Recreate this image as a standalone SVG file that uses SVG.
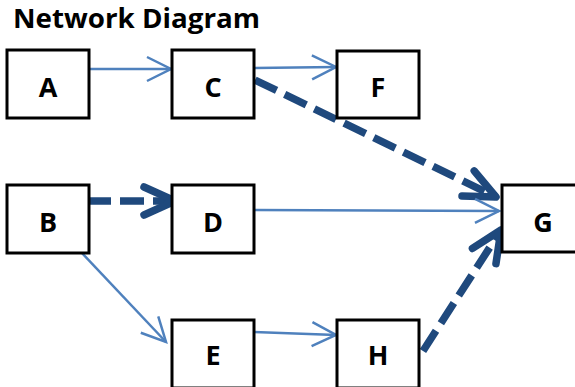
<svg xmlns="http://www.w3.org/2000/svg" width="575" height="387" viewBox="0 0 575 387">
  <style>
    .box { fill: #ffffff; stroke: #000000; stroke-width: 3; }
    .lbl { font-family: "Open Sans", "Liberation Sans", sans-serif; font-weight: bold; font-size: 27px; fill: #000000; text-anchor: middle; }
    .title { font-family: "Open Sans", "Liberation Sans", sans-serif; font-weight: bold; font-size: 26px; fill: #000000; }
    .thin { fill: none; stroke: #4F81BD; stroke-width: 2.5; marker-end: url(#open); }
    .crit { fill: none; stroke: #1F497D; stroke-width: 7.5; stroke-dasharray: 24 9; marker-end: url(#openBold); }
  </style>
  <defs>
    <marker id="open" markerUnits="userSpaceOnUse" markerWidth="40" markerHeight="40" viewBox="-30 -20 40 40" refX="0" refY="0" orient="auto" overflow="visible">
      <path d="M-24,-12 L0,0 L-24,12" fill="none" stroke="#4F81BD" stroke-width="2.5" stroke-linejoin="miter"/>
    </marker>
    <marker id="openBold" markerUnits="userSpaceOnUse" markerWidth="60" markerHeight="60" viewBox="-40 -30 60 60" refX="0" refY="0" orient="auto" overflow="visible">
      <path d="M-31,-14 L0,0 L-31,14" fill="none" stroke="#1F497D" stroke-width="7.5" stroke-linecap="round" stroke-linejoin="round"/>
    </marker>
  </defs>

  <text class="title" x="13" y="28" textLength="247" lengthAdjust="spacingAndGlyphs">Network Diagram</text>

  <g id="connectors">
    <line class="thin" x1="89" y1="69" x2="171" y2="69"/>
    <line class="thin" x1="254" y1="68" x2="336" y2="67"/>
    <line class="crit" x1="255" y1="80" x2="496" y2="197"/>
    <line class="crit" x1="87" y1="201" x2="175" y2="201"/>
    <line class="thin" x1="247" y1="210" x2="499" y2="211"/>
    <line class="thin" x1="81" y1="252" x2="166" y2="342"/>
    <line class="thin" x1="254" y1="332" x2="336" y2="335"/>
    <line class="crit" x1="423" y1="351" x2="501" y2="230"/>
  </g>

  <g id="node-A"><rect class="box" x="7" y="50" width="82" height="68"/><text class="lbl" x="48" y="97">A</text></g>
  <g id="node-C"><rect class="box" x="172" y="50" width="82" height="68"/><text class="lbl" x="213" y="97">C</text></g>
  <g id="node-F"><rect class="box" x="337" y="51" width="82" height="67"/><text class="lbl" x="378" y="97">F</text></g>
  <g id="node-B"><rect class="box" x="7" y="185" width="82" height="68"/><text class="lbl" x="48" y="232">B</text></g>
  <g id="node-D"><rect class="box" x="172" y="185" width="82" height="68"/><text class="lbl" x="213" y="232">D</text></g>
  <g id="node-G"><rect class="box" x="502" y="185" width="82" height="67"/><text class="lbl" x="543" y="232">G</text></g>
  <g id="node-E"><rect class="box" x="172" y="320" width="82" height="68"/><text class="lbl" x="213" y="365">E</text></g>
  <g id="node-H"><rect class="box" x="337" y="320" width="82" height="68"/><text class="lbl" x="378" y="365">H</text></g>
</svg>
